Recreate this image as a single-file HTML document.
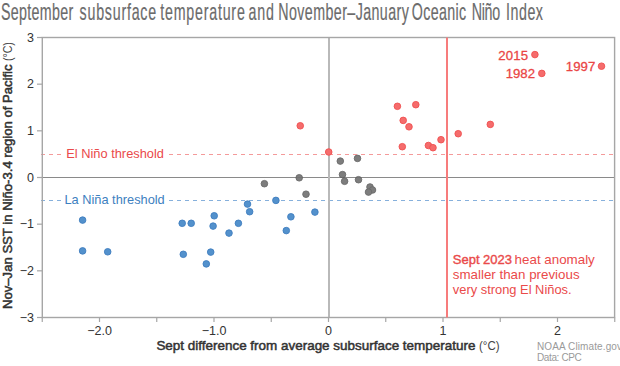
<!DOCTYPE html>
<html><head><meta charset="utf-8">
<style>
html,body{margin:0;padding:0;background:#fff;width:620px;height:366px;overflow:hidden}
svg{display:block}
text{font-family:"Liberation Sans",sans-serif}
</style></head>
<body>
<svg width="620" height="366" viewBox="0 0 620 366">
<g font-size="23" fill="#6b6b6b">
<text transform="translate(0.90,0) scale(0.62,1)" x="0" y="19.6" textLength="116.8" lengthAdjust="spacing" stroke="#6b6b6b" stroke-width="0.2">September</text>
<text transform="translate(79.60,0) scale(0.62,1)" x="0" y="19.6" textLength="123.5" lengthAdjust="spacing" stroke="#6b6b6b" stroke-width="0.2">subsurface</text>
<text transform="translate(160.20,0) scale(0.62,1)" x="0" y="19.6" textLength="136.5" lengthAdjust="spacing" stroke="#6b6b6b" stroke-width="0.2">temperature</text>
<text transform="translate(248.50,0) scale(0.62,1)" x="0" y="19.6" textLength="41.0" lengthAdjust="spacing" stroke="#6b6b6b" stroke-width="0.2">and</text>
<text transform="translate(278.30,0) scale(0.62,1)" x="0" y="19.6" textLength="210.5" lengthAdjust="spacing" stroke="#6b6b6b" stroke-width="0.2">November–January</text>
<text transform="translate(411.80,0) scale(0.62,1)" x="0" y="19.6" textLength="87.7" lengthAdjust="spacing" stroke="#6b6b6b" stroke-width="0.2">Oceanic</text>
<text transform="translate(471.70,0) scale(0.62,1)" x="0" y="19.6" textLength="45.8" lengthAdjust="spacing" stroke="#6b6b6b" stroke-width="0.2">Niño</text>
<text transform="translate(506.10,0) scale(0.62,1)" x="0" y="19.6" textLength="59.4" lengthAdjust="spacing" stroke="#6b6b6b" stroke-width="0.2">Index</text>
</g>
<line x1="41" y1="154.5" x2="614.6" y2="154.5" stroke="#f49a9a" stroke-width="1" stroke-dasharray="4,4"/>
<line x1="41" y1="200.5" x2="614.6" y2="200.5" stroke="#86b0dc" stroke-width="1" stroke-dasharray="4,4"/>
<rect x="62" y="146" width="106" height="14" fill="#fff"/>
<rect x="61" y="192" width="107" height="14" fill="#fff"/>
<text x="66.3" y="157.9" font-size="12.8" fill="#ea4a4a" textLength="97.6" lengthAdjust="spacingAndGlyphs">El Niño threshold</text>
<text x="64.5" y="204.2" font-size="12.8" fill="#3d80c0" textLength="100.2" lengthAdjust="spacingAndGlyphs">La Niña threshold</text>
<line x1="42.3" y1="177.5" x2="614.6" y2="177.5" stroke="#8a8a8a" stroke-width="1.2"/>
<line x1="329" y1="37.5" x2="329" y2="317.5" stroke="#b9b9b9" stroke-width="2"/>
<rect x="42.3" y="37.5" width="572.30" height="280.00" fill="none" stroke="#a6a6a6" stroke-width="1.4"/>
<g stroke="#a6a6a6" stroke-width="1.2">
<line x1="37" y1="37.50" x2="42.3" y2="37.50"/>
<line x1="37" y1="84.17" x2="42.3" y2="84.17"/>
<line x1="37" y1="130.83" x2="42.3" y2="130.83"/>
<line x1="37" y1="177.50" x2="42.3" y2="177.50"/>
<line x1="37" y1="224.17" x2="42.3" y2="224.17"/>
<line x1="37" y1="270.83" x2="42.3" y2="270.83"/>
<line x1="37" y1="317.50" x2="42.3" y2="317.50"/>
<line x1="42.25" y1="317.5" x2="42.25" y2="322"/>
<line x1="99.50" y1="317.5" x2="99.50" y2="322"/>
<line x1="156.75" y1="317.5" x2="156.75" y2="322"/>
<line x1="214.00" y1="317.5" x2="214.00" y2="322"/>
<line x1="271.25" y1="317.5" x2="271.25" y2="322"/>
<line x1="328.50" y1="317.5" x2="328.50" y2="322"/>
<line x1="385.75" y1="317.5" x2="385.75" y2="322"/>
<line x1="443.00" y1="317.5" x2="443.00" y2="322"/>
<line x1="500.25" y1="317.5" x2="500.25" y2="322"/>
<line x1="557.50" y1="317.5" x2="557.50" y2="322"/>
<line x1="614.75" y1="317.5" x2="614.75" y2="322"/>
</g>
<g font-size="12.5" fill="#333" text-anchor="end">
<text x="34" y="41.70">3</text>
<text x="34" y="88.37">2</text>
<text x="34" y="135.03">1</text>
<text x="34" y="181.70">0</text>
<text x="34" y="228.37">−1</text>
<text x="34" y="275.03">−2</text>
<text x="34" y="321.70">−3</text>
</g>
<g font-size="12.5" fill="#333" text-anchor="middle">
<text x="99.50" y="335">−2.0</text>
<text x="214.00" y="335">−1.0</text>
<text x="328.50" y="335">0</text>
<text x="443.00" y="335">1</text>
<text x="557.50" y="335">2</text>
</g>
<text x="156.4" y="350.3" font-size="13" fill="#333" stroke="#333" stroke-width="0.5" textLength="319" lengthAdjust="spacingAndGlyphs">Sept difference from average subsurface temperature</text>
<text x="479" y="350.3" font-size="13" fill="#444" textLength="20.5" lengthAdjust="spacingAndGlyphs">(°C)</text>
<text transform="translate(12,309) rotate(-90)" font-size="13" fill="#333" stroke="#333" stroke-width="0.5" textLength="244.6" lengthAdjust="spacingAndGlyphs">Nov–Jan SST in Niño-3.4 region of Pacific</text>
<text transform="translate(12,61) rotate(-90)" font-size="13" fill="#444" textLength="18.8" lengthAdjust="spacingAndGlyphs">(°C)</text>
<text x="537" y="349.8" font-size="10" fill="#9a9a9a" textLength="85">NOAA Climate.gov</text>
<text x="537" y="360.8" font-size="10" fill="#9a9a9a" textLength="44.8">Data: CPC</text>
<line x1="447" y1="37.5" x2="447" y2="317.5" stroke="#f77c7c" stroke-width="2"/>
<g font-size="13.3" fill="#ea4a4a">
<text x="452.8" y="264.2" stroke="#ea4a4a" stroke-width="0.4" textLength="59.2" lengthAdjust="spacingAndGlyphs">Sept 2023</text>
<text x="514.6" y="264.2" textLength="80.2" lengthAdjust="spacingAndGlyphs">heat anomaly</text>
<text x="452.8" y="279" textLength="126.8" lengthAdjust="spacingAndGlyphs">smaller than previous</text>
<text x="452.8" y="294" textLength="118.8" lengthAdjust="spacingAndGlyphs">very strong El Niños.</text>
</g>
<g fill="#5391cc" stroke="#3f7ec0" stroke-width="0.9">
<circle cx="82.6" cy="220.10" r="3.3"/>
<circle cx="82.6" cy="250.90" r="3.3"/>
<circle cx="107.7" cy="251.80" r="3.3"/>
<circle cx="182.2" cy="223.30" r="3.3"/>
<circle cx="191.2" cy="223.30" r="3.3"/>
<circle cx="214.2" cy="215.80" r="3.3"/>
<circle cx="213.1" cy="226.10" r="3.3"/>
<circle cx="238.4" cy="223.30" r="3.3"/>
<circle cx="229.0" cy="233.10" r="3.3"/>
<circle cx="183.3" cy="254.30" r="3.3"/>
<circle cx="210.7" cy="252.10" r="3.3"/>
<circle cx="206.3" cy="263.90" r="3.3"/>
<circle cx="247.5" cy="204.10" r="3.3"/>
<circle cx="249.65" cy="211.70" r="3.3"/>
<circle cx="275.9" cy="200.40" r="3.3"/>
<circle cx="290.9" cy="216.80" r="3.3"/>
<circle cx="286.3" cy="230.60" r="3.3"/>
<circle cx="314.9" cy="212.10" r="3.3"/>
</g>
<g fill="#727272" stroke="#5f5f5f" stroke-width="0.9" opacity="0.92">
<circle cx="264.4" cy="183.7" r="3.3"/>
<circle cx="299.2" cy="177.8" r="3.3"/>
<circle cx="306.0" cy="194.2" r="3.3"/>
<circle cx="340.3" cy="161.1" r="3.3"/>
<circle cx="357.5" cy="158.4" r="3.3"/>
<circle cx="342.5" cy="174.6" r="3.3"/>
<circle cx="344.6" cy="181.3" r="3.3"/>
<circle cx="358.5" cy="179.7" r="3.3"/>
<circle cx="370" cy="187" r="3.3"/>
<circle cx="372.5" cy="190" r="3.3"/>
<circle cx="368.5" cy="192.1" r="3.3"/>
</g>
<g fill="#f56c6c" stroke="#ef5050" stroke-width="0.9">
<circle cx="300.25" cy="125.8" r="3.3"/>
<circle cx="328.7" cy="152.0" r="3.3"/>
<circle cx="397.4" cy="106.3" r="3.3"/>
<circle cx="415.8" cy="104.7" r="3.3"/>
<circle cx="403.2" cy="120.4" r="3.3"/>
<circle cx="409.0" cy="126.8" r="3.3"/>
<circle cx="402.3" cy="146.7" r="3.3"/>
<circle cx="428.4" cy="145.5" r="3.3"/>
<circle cx="433.0" cy="147.7" r="3.3"/>
<circle cx="441.0" cy="139.7" r="3.3"/>
<circle cx="458.2" cy="133.7" r="3.3"/>
<circle cx="490.3" cy="124.4" r="3.3"/>
<circle cx="534.9" cy="54.6" r="3.3"/>
<circle cx="541.8" cy="73.4" r="3.3"/>
<circle cx="601.5" cy="66.2" r="3.3"/>
</g>
<g font-size="13.2" fill="#ea4545" stroke="#ea4545" stroke-width="0.3" text-anchor="end">
<text x="528" y="59.5" textLength="29.8">2015</text>
<text x="535" y="78.3" textLength="29.3">1982</text>
<text x="595.3" y="70.6" textLength="29.5">1997</text>
</g>
</svg>
</body></html>
